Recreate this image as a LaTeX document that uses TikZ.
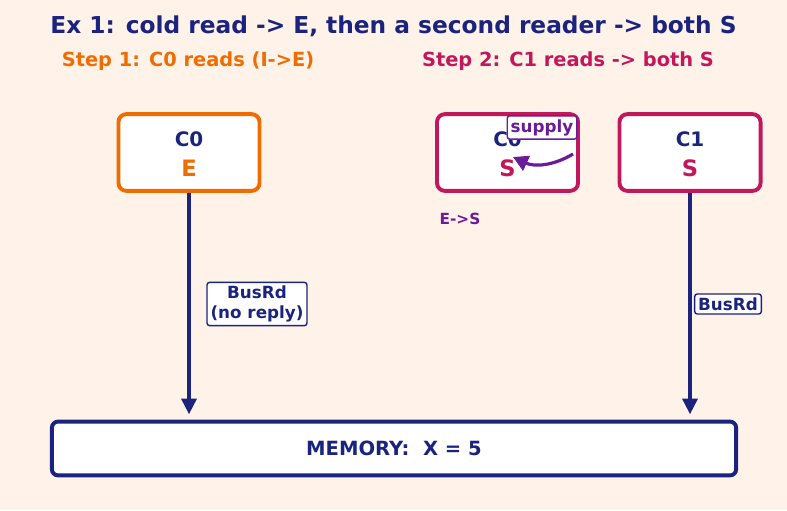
\documentclass[tikz,border=0pt]{standalone}
\usepackage{fontspec}
\setmainfont{DejaVu Sans}
\usetikzlibrary{arrows.meta}
\usetikzlibrary{positioning}
\definecolor{cream}{RGB}{255,242,232}
\definecolor{navy}{RGB}{26,35,126}
\definecolor{orng}{RGB}{239,108,0}
\definecolor{mgnt}{RGB}{194,24,91}
\definecolor{purp}{RGB}{106,27,154}

\begin{document}
\begin{tikzpicture}[x=0.567pt,y=-0.567pt,
  cachebox/.style={draw,fill=white,line width=2.2pt,rounded corners=4.5pt,minimum width=80pt,minimum height=43.5pt},
  nametext/.style={font=\bfseries\fontsize{11.3}{13}\selectfont,text=navy},
  statetext/.style={font=\bfseries\fontsize{12.8}{15}\selectfont},
  msgbox/.style={draw=navy,fill=white,line width=0.8pt,rounded corners=1.5pt,inner sep=2pt,text=navy,align=center,font=\bfseries\fontsize{9.5}{11.3}\selectfont},
  busarrow/.style={draw=navy,line width=2.1pt,-{Stealth[length=9pt,width=8.5pt,inset=0pt]}}]
\fill[cream] (0,0) rectangle (787,510);
\node[font=\bfseries\fontsize{13.2}{16}\selectfont,text=navy] (title) at (393.5,26) {Ex 1: cold read -> E, then a second reader -> both S};
\node[font=\bfseries\fontsize{11}{13}\selectfont,text=orng] (step1) at (188,61) {Step 1: C0 reads (I->E)};
\node[font=\bfseries\fontsize{11}{13}\selectfont,text=mgnt] (step2) at (568,61) {Step 2: C1 reads -> both S};

% step 1
\node[cachebox,draw=orng] (c0a) at (189,152.5) {};
\node[nametext] (c0aname) at (189,139) {C0};
\node[statetext,text=orng] (c0astate) at (189,168) {E};

% step 2
\node[cachebox,draw=mgnt] (c0b) at (507.5,152.5) {};
\node[nametext] (c0bname) at (507.5,139) {C0};
\node[statetext,text=mgnt] (c0bstate) at (507.5,168) {S};
\node[cachebox,draw=mgnt] (c1b) at (690,152.5) {};
\node[nametext] (c1bname) at (690,139) {C1};
\node[statetext,text=mgnt] (c1bstate) at (690,168) {S};

\node[msgbox,draw=purp,text=purp] (supply) at (542,127.5) {supply};
\coordinate (sfrom) at (573,154);
\coordinate (sto) at (513,157);
\draw[purp,line width=1.8pt,-{Stealth[length=8.5pt,width=9pt,inset=0pt]}] (sfrom) to[bend left=28] (sto);
\node[font=\bfseries\fontsize{8.7}{10}\selectfont,text=purp] (tr) at (460,219) {E->S};

% memory
\node[draw=navy,fill=white,line width=2.2pt,rounded corners=3.5pt,minimum width=388pt,minimum height=30.5pt,
  font=\bfseries\fontsize{11.1}{13}\selectfont,text=navy] (mem) at (394,448.5) {MEMORY:~~X = 5};

\draw[busarrow,shorten >=3pt] (c0a.south) -- (c0a.south |- mem.north);
\draw[busarrow,shorten >=3pt] (c1b.south) -- (c1b.south |- mem.north);
\node[msgbox] (rd0) at (257,304) {BusRd\\(no reply)};
\node[msgbox] (rd1) at (728,304) {BusRd};
\end{tikzpicture}
\end{document}
